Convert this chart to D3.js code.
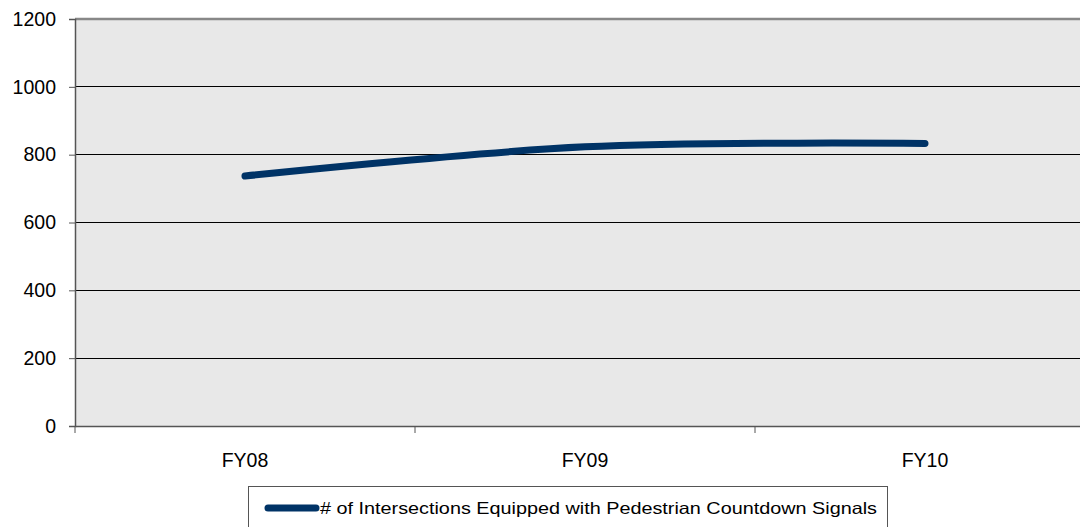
<!DOCTYPE html>
<html><head><meta charset="utf-8">
<script src="https://cdn.jsdelivr.net/npm/d3@7"></script>
<style>body{margin:0;background:#fff;}svg{display:block;font-family:"Liberation Sans",Arial,sans-serif;}
.ax text{font-family:"Liberation Sans",Arial,sans-serif;font-size:19.5px;fill:#000;}</style>
</head><body>
<svg id="c" width="1080" height="527"></svg>
<script>
const categories = ["FY08", "FY09", "FY10"];
const values = [737, 823, 833];
const yTicks = [0, 200, 400, 600, 800, 1000, 1200];
const seriesName = "# of Intersections Equipped with Pedestrian Countdown Signals";

const svg = d3.select("#c");
const L = 75, R = 1095, T = 19, B = 426;
const x = d3.scaleBand().domain(categories).range([L, R]);
const y = d3.scaleLinear().domain([0, 1200]).range([B, T]);

svg.append("rect").attr("x", L).attr("y", T).attr("width", R - L).attr("height", B - T).attr("fill", "#e8e8e8");

svg.append("g").selectAll("line").data(yTicks.filter(d => d > 0 && d < 1200)).join("line")
  .attr("x1", L).attr("x2", R).attr("y1", d => y(d)).attr("y2", d => y(d))
  .attr("stroke", "#000").attr("stroke-width", 1).attr("shape-rendering", "crispEdges");

svg.append("line").attr("x1", L).attr("x2", R).attr("y1", y(1200)).attr("y2", y(1200))
  .attr("stroke", "#888").attr("stroke-width", 2.5);

// y axis
const ya = svg.append("g").attr("class", "ax").attr("transform", `translate(${L},0)`)
  .call(d3.axisLeft(y).tickValues(yTicks).tickFormat(d3.format("d")).tickSize(6).tickPadding(13));
ya.select(".domain").attr("stroke", "#555").attr("stroke-width", 1.5);
ya.selectAll(".tick line").attr("stroke", "#555");

// x axis
const xa = svg.append("g").attr("class", "ax").attr("transform", `translate(0,${B})`)
  .call(d3.axisBottom(x).tickSize(0).tickPadding(27));
xa.select(".domain").attr("stroke", "#555").attr("stroke-width", 1.5);
const bounds = categories.map(c => x(c)).concat([R]);
svg.append("g").selectAll("line").data(bounds).join("line")
  .attr("x1", d => d).attr("x2", d => d).attr("y1", B).attr("y2", B + 7)
  .attr("stroke", "#555").attr("stroke-width", 1);

// line
const line = d3.line().x((d, i) => x(categories[i]) + x.bandwidth() / 2).y(d => y(d)).curve(d3.curveCatmullRom.alpha(0.5));
svg.append("path").datum(values).attr("d", line).attr("fill", "none")
  .attr("stroke", "#003366").attr("stroke-width", 7).attr("stroke-linecap", "round");

// legend
const lg = svg.append("g");
lg.append("rect").attr("x", 248.5).attr("y", 486.5).attr("width", 639).attr("height", 50)
  .attr("fill", "#fff").attr("stroke", "#555").attr("stroke-width", 1);
lg.append("line").attr("x1", 268).attr("x2", 316).attr("y1", 508).attr("y2", 508)
  .attr("stroke", "#003366").attr("stroke-width", 7).attr("stroke-linecap", "round");
lg.append("text").attr("x", 320).attr("y", 514).attr("font-size", 16.5).attr("fill", "#000")
  .attr("textLength", 557).attr("lengthAdjust", "spacingAndGlyphs").text(seriesName);
</script>
</body></html>
